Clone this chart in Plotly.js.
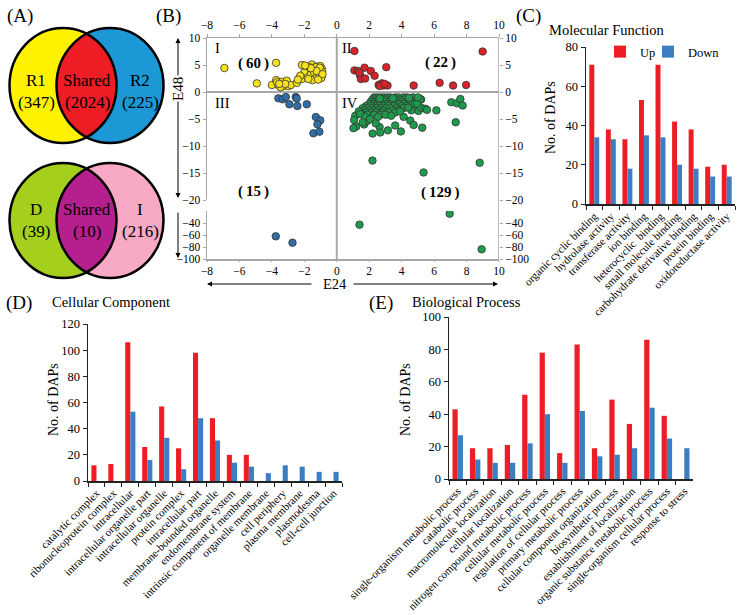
<!DOCTYPE html>
<html><head><meta charset="utf-8">
<script src="https://cdn.plot.ly/plotly-3.0.1.min.js"></script>
<style>html,body{margin:0;padding:0;background:#fff}#chart{width:743px;height:615px}</style>
</head><body><div id="chart"></div>
<script>
// ================= DATA =================
// Panel A: Venn diagrams
const vennTopLabels = ['R1', 'Shared', 'R2'];
const vennTopCounts = [347, 2024, 225];
const vennBottomLabels = ['D', 'Shared', 'I'];
const vennBottomCounts = [39, 10, 216];

// Panel B: quadrant scatter (E24 vs E48)
const quadrantNames = ['I', 'II', 'III', 'IV'];
const quadrantCounts = [60, 22, 15, 129];

const q1x = [-6.93,-4.93,-3.74,-4.0,-3.74,-3.6,-3.39,-3.29,-3.08,-2.98,-2.83,-3.68,-3.47,-3.18,-2.46,
  -2.15,-2.30,-2.05,-1.85,-1.64,-1.54,-1.44,-1.33,-1.23,-1.13,-1.02,-1.02,-0.92,-0.92,-0.98,-1.23,-1.48,-1.75,-1.95,-2.15,-1.33,-1.13,-1.68,-1.90,
  -2.0,-1.8,-1.6,-1.5,-1.4,-1.3,-1.2,-1.1,-1.0,-0.95,-0.9,-1.05,-1.25,-1.6,-1.75,-2.25,-2.4,-1.95,-0.88,-1.15,-3.55];
const q1y = [4.44,1.6,5.4,1.3,2.2,1.3,1.9,1.1,2.1,1.1,1.3,1.8,0.9,1.5,1.7,
  5.0,2.5,3.1,3.8,2.5,5.1,4.1,3.1,4.7,2.5,3.8,4.8,3.1,4.3,2.8,3.4,3.3,3.0,2.8,2.4,4.0,4.3,4.6,3.4,
  3.6,2.7,3.2,2.2,3.7,4.6,2.9,3.5,4.1,2.6,3.8,4.5,3.9,4.4,2.4,3.0,2.3,4.9,3.3,2.3,1.5];

const q2x = [1.09,8.99,1.09,1.30,1.71,2.10,3.05,1.44,2.33,1.49,1.75,2.58,2.78,2.88,3.13,4.74,6.34,7.17,7.97,2.65,1.40,2.95];
const q2y = [7.6,7.5,4.0,3.9,4.5,3.9,4.6,3.0,3.0,2.4,2.5,1.3,1.6,1.2,1.2,1.2,1.7,1.2,1.3,1.1,3.6,1.5];

const q3x = [-3.6,-3.33,-3.14,-2.92,-2.53,-2.47,-2.43,-1.85,-1.29,-1.02,-1.19,-1.44,-1.07,-3.76,-2.73];
const q3y = [-1.17,-1.35,-0.93,-2.28,-0.93,-1.2,-2.6,-2.28,-4.63,-5.24,-5.99,-7.65,-7.35,-62.2,-72.8];

const q4x = [2.3,2.5,2.7,2.9,3.1,3.3,3.6,3.8,4.1,4.3,4.7,
  2.2,2.4,2.6,2.8,3.0,3.2,3.4,3.7,3.9,4.2,4.5,5.2,
  2.1,2.35,2.55,2.75,3.0,3.25,3.5,3.8,4.0,4.4,4.6,
  2.0,2.3,2.5,2.8,3.1,3.35,3.6,3.9,4.15,4.8,
  1.8,2.1,2.4,2.6,2.9,3.2,3.5,4.0,4.3,
  1.6,1.9,2.2,2.45,2.7,3.0,3.3,3.7,4.1,
  1.7,2.0,2.3,2.55,2.85,3.4,3.8,4.6,
  1.5,1.85,2.15,2.4,2.8,3.2,3.6,
  1.9,2.3,2.7,3.0,
  1.14,1.07,1.20,1.03,1.69,1.86,2.21,2.64,2.68,3.15,3.60,3.95,4.12,4.53,4.74,5.27,5.04,5.19,5.46,5.56,5.15,6.14,7.06,7.41,7.62,7.76,7.33,
  1.35,1.45,1.75,2.05,2.55,3.35,3.9,4.4,4.95,5.0,4.45,3.45,2.65,1.6,2.4,
  2.2,5.35,8.81,1.40,6.96,8.93];
const q4y = [-1.0,-1.0,-1.0,-1.0,-1.0,-1.0,-1.0,-1.0,-1.0,-1.0,-1.0,
  -1.4,-1.4,-1.4,-1.4,-1.4,-1.4,-1.4,-1.4,-1.4,-1.4,-1.4,-1.4,
  -1.8,-1.8,-1.8,-1.8,-1.8,-1.8,-1.8,-1.8,-1.8,-1.8,-1.8,
  -2.2,-2.2,-2.2,-2.2,-2.2,-2.2,-2.2,-2.2,-2.2,-2.2,
  -2.6,-2.6,-2.6,-2.6,-2.6,-2.6,-2.6,-2.6,-2.6,
  -3.0,-3.0,-3.0,-3.0,-3.0,-3.0,-3.0,-3.0,-3.0,
  -3.4,-3.4,-3.4,-3.4,-3.4,-3.4,-3.4,-3.4,
  -3.8,-3.8,-3.8,-3.8,-3.8,-3.8,-3.8,
  -4.2,-4.2,-4.2,-4.2,
  -4.4,-5.2,-6.4,-6.7,-6.0,-5.4,-7.7,-6.5,-7.5,-7.1,-6.2,-7.3,-4.6,-5.3,-6.1,-6.6,-3.5,-2.9,-3.1,-3.3,-1.3,-3.4,-1.9,-2.1,-1.3,-2.5,-5.6,
  -3.6,-4.1,-4.6,-5.0,-4.6,-4.4,-3.6,-2.9,-2.2,-1.0,-1.1,-1.15,-1.2,-5.6,-5.8,
  -12.7,-14.9,-13.1,-42.8,-24.5,-83.9];

// Panel C: Molecular Function
const mfCategories = ['organic cyclic binding','hydrolase activity','transferase activity','ion binding',
  'heterocyclic  binding','small molecule binding','carbohydrate derivative binding','protein binding','oxidoreductase activity'];
const mfUp =   [71, 38, 33, 53, 71, 42, 38, 19, 20];
const mfDown = [34, 33, 18, 35, 34, 20, 18, 14, 14];

// Panel D: Cellular Component
const ccCategories = ['catalytic complex','ribonucleoprotein complex','intracellular','intracellular organelle part',
  'intracellular organelle','protein complex','intracellular part','membrane-bounded organelle','endomembrane system',
  'intrinsic component of membrane','organelle membrane','cell periphery','plasma membrane','plasmodesma','cell-cell junction'];
const ccUp =   [12, 13, 106, 26, 57, 25, 98, 48, 20, 20, 0, 0, 0, 0, 0];
const ccDown = [0, 0, 53, 16, 33, 9, 48, 31, 14, 11, 6, 12, 11, 7, 7];

// Panel E: Biological Process
const bpCategories = ['single-organism metabolic process','catabolic process','macromolecule localization','cellular localization',
  'nitrogen compound metabolic process','cellular metabolic process','regulation of cellular process','primary metabolic process',
  'cellular component organization','biosynthetic process','establishment of localization','organic substance metabolic process',
  'single-organism cellular process','response to stress'];
const bpUp =   [43, 19, 19, 21, 52, 78, 16, 83, 19, 49, 34, 86, 39, 0];
const bpDown = [27, 12, 10, 10, 22, 40, 10, 42, 14, 15, 19, 44, 25, 19];

// ================= STYLE =================
const FONT = "'Liberation Serif', 'Times New Roman', Times, serif";
const W = 743, H = 615;
const px = v => v / W;
const py = v => 1 - v / H;
const GRAY = '#a8a8a8';
const RED = '#ee1c24', BLUE = '#3b7fc2';

// ================= TRACES =================
function scatterTraces(xs, ys, color) {
  const ux = [], uy = [], lx = [], ly = [];
  xs.forEach((x, i) => { if (ys[i] >= -20) { ux.push(x); uy.push(ys[i]); } else { lx.push(x); ly.push(ys[i]); } });
  const marker = {size: 7.5, color: color, line: {color: '#333', width: 0.8}};
  return [
    {type: 'scatter', mode: 'markers', x: ux, y: uy, xaxis: 'x2', yaxis: 'y2', marker: marker, showlegend: false, hoverinfo: 'skip'},
    {type: 'scatter', mode: 'markers', x: lx, y: ly, xaxis: 'x', yaxis: 'y', marker: marker, showlegend: false, hoverinfo: 'skip'}
  ];
}
function barTraces(cats, up, down, xa, ya, legend) {
  return [
    {type: 'bar', name: 'Up', x: cats, y: up, xaxis: xa, yaxis: ya, marker: {color: RED}, showlegend: legend, legend: 'legend'},
    {type: 'bar', name: 'Down', x: cats, y: down, xaxis: xa, yaxis: ya, marker: {color: BLUE}, showlegend: legend, legend: 'legend2'}
  ];
}

const traces = [].concat(
  scatterTraces(q1x, q1y, '#f6e21c'),
  scatterTraces(q2x, q2y, '#d7242a'),
  scatterTraces(q3x, q3y, '#2f6ea6'),
  scatterTraces(q4x, q4y, '#1f9a4c'),
  [{type: 'scatter', x: [], y: [], xaxis: 'x2', yaxis: 'y6', showlegend: false},
   {type: 'scatter', x: [], y: [], xaxis: 'x', yaxis: 'y7', showlegend: false}],
  barTraces(mfCategories, mfUp, mfDown, 'x3', 'y3', true),
  barTraces(ccCategories, ccUp, ccDown, 'x4', 'y4', false),
  barTraces(bpCategories, bpUp, bpDown, 'x5', 'y5', false)
);

// ================= AXES =================
const tf = s => ({family: FONT, size: s, color: '#000'});
const scatX = (anchor, side, tl) => ({
  domain: [px(207), px(499)], range: [-8, 10], anchor: anchor, side: side, dtick: 2,
  showline: true, linecolor: GRAY, linewidth: 1.5, ticks: 'outside', ticklen: tl, tickcolor: GRAY,
  showgrid: false, zeroline: false, tickfont: tf(11.5)
});
const scatY = (extra) => Object.assign({
  showline: true, linecolor: GRAY, linewidth: 1.5, ticks: 'outside', ticklen: 3, tickcolor: GRAY,
  showgrid: false, zeroline: false, tickfont: tf(11.5), autorange: false
}, extra);
const barX = (dom, anchor) => ({
  domain: dom, anchor: anchor, type: 'category', showline: true, linecolor: '#222', linewidth: 1.5,
  ticks: 'outside', tickson: 'boundaries', ticklen: 4, tickcolor: '#222', tickangle: -45,
  tickfont: tf(11), showgrid: false, zeroline: false
});
const barY = (dom, anchor, range) => ({
  domain: dom, anchor: anchor, range: range, dtick: 20, showline: true, linecolor: '#222', linewidth: 1.5,
  ticks: 'outside', ticklen: 4, tickcolor: '#222', tickfont: tf(12.5), showgrid: false, zeroline: false
});

const upTicks = [10, 5, 0, -5, -10, -15, -20];
const loTicks = [-40, -60, -80, -100];

// ================= SHAPES (Venn + frame) =================
const shapes = [];
function ellipse(cx, cy, rx, ry, fill, line) {
  return {type: 'circle', xref: 'paper', yref: 'paper', x0: px(cx - rx), x1: px(cx + rx), y0: py(cy + ry), y1: py(cy - ry),
    fillcolor: fill, line: line, layer: 'above'};
}
function lensPath(c1, c2, cy, rx, ry) {
  const mid = (c1 + c2) / 2;
  const t0 = Math.acos((mid - c2) / rx);
  const p0 = Math.acos((mid - c1) / rx);
  const pts = [];
  const n = 40;
  for (let i = 0; i <= n; i++) { const t = t0 + (2 * Math.PI - 2 * t0) * i / n; pts.push([c2 + rx * Math.cos(t), cy + ry * Math.sin(t)]); }
  for (let i = 0; i <= n; i++) { const p = -p0 + 2 * p0 * i / n; pts.push([c1 + rx * Math.cos(p), cy + ry * Math.sin(p)]); }
  return 'M' + pts.map(q => px(q[0]).toFixed(5) + ',' + py(q[1]).toFixed(5)).join('L') + 'Z';
}
function venn(cy, colL, colR, colMid) {
  const c1 = 63, c2 = 110, rx = 53.5, ry = 57.5;
  shapes.push(ellipse(c1, cy, rx, ry, colL, {width: 0}));
  shapes.push(ellipse(c2, cy, rx, ry, colR, {width: 0}));
  shapes.push({type: 'path', xref: 'paper', yref: 'paper', path: lensPath(c1, c2, cy, rx, ry), fillcolor: colMid, line: {width: 0}, layer: 'above'});
  shapes.push(ellipse(c1, cy, rx, ry, 'rgba(0,0,0,0)', {color: '#000', width: 2.5}));
  shapes.push(ellipse(c2, cy, rx, ry, 'rgba(0,0,0,0)', {color: '#000', width: 2.5}));
}
venn(85.5, '#fff200', '#1b98d5', '#ee1c24');
venn(220.5, '#a4cf1c', '#f7a9c5', '#b5208e');

// scatter frame: zero vertical line and right border through the axis break
shapes.push({type: 'line', xref: 'x', yref: 'paper', x0: 0, x1: 0, y0: py(259), y1: py(38), line: {color: GRAY, width: 2}, layer: 'below'});
shapes.push({type: 'line', xref: 'x', yref: 'paper', x0: 10, x1: 10, y0: py(259), y1: py(38), line: {color: GRAY, width: 1.5}, layer: 'above'});

// ================= ANNOTATIONS =================
const ann = [];
function txt(x, y, text, size, opts) {
  ann.push(Object.assign({xref: 'paper', yref: 'paper', x: px(x), y: py(y), text: text, showarrow: false,
    xanchor: 'center', yanchor: 'middle', font: {family: FONT, size: size, color: '#000'}}, opts || {}));
}
function arrow(x, y, ax, ay) {
  ann.push({xref: 'paper', yref: 'paper', x: px(x), y: py(y), ax: ax, ay: ay, text: '', showarrow: true,
    arrowhead: 2, arrowsize: 1, arrowwidth: 1, arrowcolor: '#000'});
}
// panel letters
txt(20, 16, '(A)', 19); txt(168, 16, '(B)', 19); txt(528, 16, '(C)', 19);
txt(19, 303, '(D)', 19); txt(381, 303, '(E)', 19);
// panel titles
txt(547, 30, 'Molecular Function', 14.5, {xanchor: 'left'});
txt(50, 302, 'Cellular Component', 14.5, {xanchor: 'left'});
txt(410, 302, 'Biological Process', 14.5, {xanchor: 'left'});
// Venn labels
const vx = [36, 87, 140];
vennTopLabels.forEach((l, i) => { txt(vx[i], 80, l, 17); txt(vx[i], 102, '(' + vennTopCounts[i] + ')', 17); });
vennBottomLabels.forEach((l, i) => { txt(vx[i], 209, l, 17); txt(vx[i], 231, '(' + vennBottomCounts[i] + ')', 17); });
// Quadrants
const qPos = [[213, 48], [340, 48], [213, 103], [340, 103]];
quadrantNames.forEach((n, i) => txt(qPos[i][0], qPos[i][1], n, 14.5, {xanchor: 'left'}));
const cPos = [[253, 64], [440, 62], [253, 191], [440, 192]];
quadrantCounts.forEach((c, i) => txt(cPos[i][0], cPos[i][1], '<b>(\u2009' + c + '\u2009)</b>', 15));
// axis titles of scatter with arrows
txt(335, 284, 'E24', 14.5);
arrow(207, 284, 106, 0);
arrow(498, 284, -146, 0);
txt(178, 89, 'E48', 15, {textangle: -90});
arrow(178, 38, 0, 39);
arrow(178, 198, 0, -98);
arrow(178, 258, 0, -47);
// bar y titles
txt(550, 118, 'No. of DAPs', 14, {textangle: -90});
txt(53, 400, 'No. of DAPs', 14, {textangle: -90});
txt(405, 400, 'No. of DAPs', 14, {textangle: -90});

// ================= LAYOUT =================
const legendBase = {y: py(37), xanchor: 'left', yanchor: 'top', orientation: 'h', itemwidth: 30,
  font: {family: FONT, size: 12.5}, bgcolor: 'rgba(0,0,0,0)'};
const layout = {
  width: W, height: H, margin: {l: 0, r: 0, t: 0, b: 0},
  paper_bgcolor: '#fff', plot_bgcolor: 'rgba(0,0,0,0)',
  font: {family: FONT, size: 12, color: '#000'},
  barmode: 'group', bargap: 0.4, bargroupgap: 0,
  showlegend: true,
  legend: Object.assign({x: px(600)}, legendBase),
  legend2: Object.assign({x: px(648)}, legendBase),
  xaxis: scatX('y', 'bottom', 1),
  xaxis2: scatX('y2', 'top', 3),
  yaxis: scatY({domain: [py(259), py(211)], range: [-100, -20], anchor: 'x', tickvals: loTicks}),
  yaxis2: scatY({domain: [py(200), py(38)], range: [-20, 10], anchor: 'x2', tickvals: upTicks,
    zeroline: true, zerolinecolor: GRAY, zerolinewidth: 2}),
  yaxis6: scatY({overlaying: 'y2', anchor: 'x2', side: 'right', range: [-20, 10], tickvals: upTicks, showline: false}),
  yaxis7: scatY({overlaying: 'y', anchor: 'x', side: 'right', range: [-100, -20], tickvals: loTicks, showline: false}),
  xaxis3: barX([px(586), px(735)], 'y3'),
  yaxis3: barY([py(204), py(47)], 'x3', [0, 80]),
  xaxis4: barX([px(88), px(342)], 'y4'),
  yaxis4: barY([py(481), py(324)], 'x4', [0, 120]),
  xaxis5: barX([px(449), px(693)], 'y5'),
  yaxis5: barY([py(479), py(317)], 'x5', [0, 100]),
  shapes: shapes,
  annotations: ann
};

Plotly.newPlot('chart', traces, layout, {staticPlot: true, displayModeBar: false});
</script>
</body></html>
